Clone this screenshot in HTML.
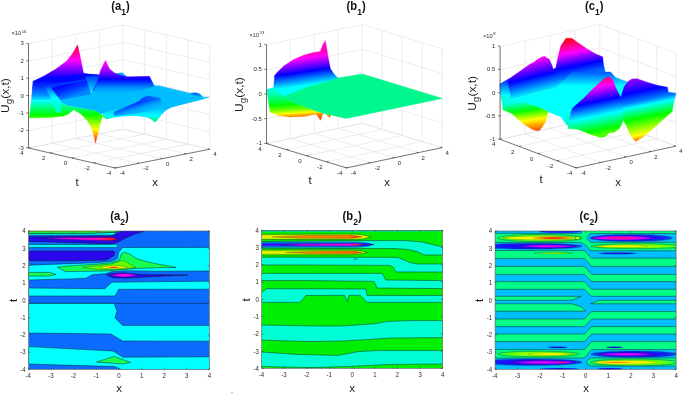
<!DOCTYPE html>
<html lang="en">
<head>
<meta charset="utf-8">
<title>Surface and contour plots of U_g(x,t)</title>
<style>
html,body{margin:0;padding:0;background:#fff;}
body{width:685px;height:395px;overflow:hidden;}
svg{display:block;font-family:'Liberation Sans', Arial, Helvetica, sans-serif;}
</style>
</head>
<body>
<svg width="685" height="395" viewBox="0 0 685 395">
<defs>
<linearGradient id="h1" gradientUnits="userSpaceOnUse" x1="77.53" y1="45.06" x2="77.53" y2="78.61"><stop offset="0" stop-color="#ff0026"/><stop offset="0.46" stop-color="#ff00ff"/><stop offset="0.99" stop-color="#0000ff"/><stop offset="1" stop-color="#0003ff"/></linearGradient>
<linearGradient id="h2" gradientUnits="userSpaceOnUse" x1="105.38" y1="60.38" x2="105.38" y2="93.67"><stop offset="0" stop-color="#ff00d6"/><stop offset="0.09" stop-color="#ff00ff"/><stop offset="0.3" stop-color="#a600ff"/><stop offset="0.57" stop-color="#0000ff"/><stop offset="0.57" stop-color="#0003ff"/><stop offset="0.83" stop-color="#0094ff"/><stop offset="1" stop-color="#00bdff"/></linearGradient>
<linearGradient id="h3" gradientUnits="userSpaceOnUse" x1="50.32" y1="80.7" x2="50.32" y2="100.95"><stop offset="0" stop-color="#0003ff"/><stop offset="0.34" stop-color="#0040ff"/><stop offset="0.72" stop-color="#0094ff"/><stop offset="1" stop-color="#00ffff"/></linearGradient>
<linearGradient id="h4" gradientUnits="userSpaceOnUse" x1="88.29" y1="75" x2="88.29" y2="93.99"><stop offset="0" stop-color="#0030ff"/><stop offset="1" stop-color="#00ffff"/></linearGradient>
<linearGradient id="h5" gradientUnits="userSpaceOnUse" x1="62.97" y1="83.61" x2="68.04" y2="98.04"><stop offset="0" stop-color="#0029ff"/><stop offset="0.1" stop-color="#0003ff"/><stop offset="0.54" stop-color="#0038ff"/><stop offset="1" stop-color="#0085ff"/></linearGradient>
<linearGradient id="h6" gradientUnits="userSpaceOnUse" x1="60" y1="100.3" x2="60" y2="143.8"><stop offset="0" stop-color="#00ffff"/><stop offset="0.33" stop-color="#00ff00"/><stop offset="0.67" stop-color="#ffff00"/><stop offset="1" stop-color="#ff0000"/></linearGradient>
<linearGradient id="h7" gradientUnits="userSpaceOnUse" x1="55.38" y1="87.41" x2="55.38" y2="112.97"><stop offset="0" stop-color="#0066ff"/><stop offset="0.41" stop-color="#00ffff"/><stop offset="1" stop-color="#00ffba"/></linearGradient>
<linearGradient id="h8" gradientUnits="userSpaceOnUse" x1="150" y1="108" x2="150" y2="122.5"><stop offset="0" stop-color="#00bdff"/><stop offset="0.55" stop-color="#00ffff"/><stop offset="1" stop-color="#00ff38"/></linearGradient>
<linearGradient id="h9" gradientUnits="userSpaceOnUse" x1="148.16" y1="96.14" x2="150.7" y2="103.99"><stop offset="0" stop-color="#0040ff"/><stop offset="1" stop-color="#009cff"/></linearGradient>
<linearGradient id="h10" gradientUnits="userSpaceOnUse" x1="136.77" y1="102.34" x2="140.06" y2="112.59"><stop offset="0" stop-color="#0021ff"/><stop offset="0.31" stop-color="#006eff"/><stop offset="0.62" stop-color="#00a3ff"/><stop offset="1" stop-color="#00bdff"/></linearGradient>
<linearGradient id="h11" gradientUnits="userSpaceOnUse" x1="195.7" y1="92.78" x2="196.96" y2="98.1"><stop offset="0" stop-color="#0057ff"/><stop offset="1" stop-color="#00bdff"/></linearGradient>
<linearGradient id="h12" gradientUnits="userSpaceOnUse" x1="299.97" y1="55.82" x2="304.15" y2="85.57"><stop offset="0" stop-color="#ff00c7"/><stop offset="0.1" stop-color="#ff00ff"/><stop offset="0.55" stop-color="#0000ff"/><stop offset="1" stop-color="#00ffff"/></linearGradient>
<linearGradient id="h13" gradientUnits="userSpaceOnUse" x1="287.32" y1="90.13" x2="288.96" y2="116.96"><stop offset="0" stop-color="#00ffd1"/><stop offset="0.24" stop-color="#00ff85"/><stop offset="0.52" stop-color="#00ff0a"/><stop offset="0.54" stop-color="#00ff00"/><stop offset="0.73" stop-color="#70ff00"/><stop offset="0.84" stop-color="#dbff00"/><stop offset="0.87" stop-color="#ffff00"/><stop offset="0.92" stop-color="#ffc700"/><stop offset="1" stop-color="#ff8200"/></linearGradient>
<linearGradient id="h14" gradientUnits="userSpaceOnUse" x1="320.23" y1="113.16" x2="320.48" y2="120.25"><stop offset="0" stop-color="#ff9900"/><stop offset="1" stop-color="#ff2e00"/></linearGradient>
<linearGradient id="h15" gradientUnits="userSpaceOnUse" x1="327.82" y1="113.16" x2="329.72" y2="117.72"><stop offset="0" stop-color="#ffa800"/><stop offset="1" stop-color="#ff6b00"/></linearGradient>
<linearGradient id="h16" gradientUnits="userSpaceOnUse" x1="571.65" y1="38.23" x2="580.13" y2="80.63"><stop offset="0" stop-color="#ff000f"/><stop offset="0.31" stop-color="#ff00f5"/><stop offset="0.33" stop-color="#ff00ff"/><stop offset="0.46" stop-color="#8f00ff"/><stop offset="0.64" stop-color="#0500ff"/><stop offset="0.65" stop-color="#0000ff"/><stop offset="0.82" stop-color="#0057ff"/><stop offset="1" stop-color="#0094ff"/></linearGradient>
<linearGradient id="h17" gradientUnits="userSpaceOnUse" x1="535.79" y1="101.9" x2="524.01" y2="52.77"><stop offset="0" stop-color="#00ff89"/><stop offset="0.15" stop-color="#00ffff"/><stop offset="0.49" stop-color="#0000ff"/><stop offset="0.82" stop-color="#ff00ff"/><stop offset="1" stop-color="#ff0076"/></linearGradient>
<linearGradient id="h18" gradientUnits="userSpaceOnUse" x1="505.13" y1="82.59" x2="505.13" y2="99.05"><stop offset="0" stop-color="#0057ff"/><stop offset="0.79" stop-color="#00ffff"/><stop offset="1" stop-color="#00ffd1"/></linearGradient>
<linearGradient id="h19" gradientUnits="userSpaceOnUse" x1="590" y1="72" x2="590" y2="86"><stop offset="0" stop-color="#0057ff"/><stop offset="1" stop-color="#00ffff"/></linearGradient>
<linearGradient id="h20" gradientUnits="userSpaceOnUse" x1="536.67" y1="135.09" x2="532.15" y2="100.48"><stop offset="0" stop-color="#ff0000"/><stop offset="0.45" stop-color="#ffff00"/><stop offset="0.74" stop-color="#00ff00"/><stop offset="1" stop-color="#00ffe2"/></linearGradient>
<linearGradient id="h21" gradientUnits="userSpaceOnUse" x1="568" y1="112" x2="568" y2="128.7"><stop offset="0" stop-color="#00ffff"/><stop offset="0.48" stop-color="#00ffc2"/><stop offset="1" stop-color="#00ff29"/></linearGradient>
<linearGradient id="h22" gradientUnits="userSpaceOnUse" x1="630.6" y1="79.2" x2="642.6" y2="139.2"><stop offset="0" stop-color="#9e00ff"/><stop offset="0.22" stop-color="#0000ff"/><stop offset="0.23" stop-color="#0003ff"/><stop offset="0.38" stop-color="#007dff"/><stop offset="0.46" stop-color="#00ffff"/><stop offset="0.65" stop-color="#00ff00"/><stop offset="0.66" stop-color="#05ff00"/><stop offset="0.92" stop-color="#faff00"/><stop offset="0.93" stop-color="#ffff00"/><stop offset="1" stop-color="#ff7a00"/></linearGradient>
<linearGradient id="h23" gradientUnits="userSpaceOnUse" x1="603.85" y1="133.36" x2="591.58" y2="73.05"><stop offset="0" stop-color="#49ff00"/><stop offset="0.07" stop-color="#00ff00"/><stop offset="0.3" stop-color="#00ffff"/><stop offset="0.53" stop-color="#0000ff"/><stop offset="0.76" stop-color="#ff00ff"/><stop offset="0.99" stop-color="#ff0000"/><stop offset="1" stop-color="#ff0000"/></linearGradient>
<linearGradient id="a2m" x1="0" x2="1" y1="0" y2="0"><stop offset="0" stop-color="#7a00ff"/><stop offset="0.25" stop-color="#d400ff"/><stop offset="0.7" stop-color="#ff00d0"/><stop offset="0.9" stop-color="#ff1040"/><stop offset="1" stop-color="#ff0000"/></linearGradient>
<radialGradient id="a2r"><stop offset="0" stop-color="#ff0000"/><stop offset="0.18" stop-color="#ff3000"/><stop offset="0.35" stop-color="#ffb000"/><stop offset="0.6" stop-color="#f0ff00"/><stop offset="1" stop-color="#a0ff00"/></radialGradient>
<radialGradient id="a2p"><stop offset="0" stop-color="#ff10c0"/><stop offset="0.45" stop-color="#e800ff"/><stop offset="1" stop-color="#8a00ff"/></radialGradient>
<linearGradient id="b2y" x1="0" x2="0" y1="0" y2="1"><stop offset="0" stop-color="#60f000"/><stop offset="0.2" stop-color="#c8ee00"/><stop offset="0.5" stop-color="#ecec00"/><stop offset="0.8" stop-color="#c8ee00"/><stop offset="1" stop-color="#60f000"/></linearGradient>
<linearGradient id="b2o" x1="0" x2="1" y1="0" y2="0"><stop offset="0" stop-color="#c8a000"/><stop offset="0.3" stop-color="#f08800"/><stop offset="0.85" stop-color="#ff7000"/><stop offset="1" stop-color="#ff1000"/></linearGradient>
<linearGradient id="b2b" x1="0" x2="0" y1="0" y2="1"><stop offset="0" stop-color="#00b0e0"/><stop offset="0.3" stop-color="#1030ff"/><stop offset="0.5" stop-color="#5000f0"/><stop offset="0.7" stop-color="#1030ff"/><stop offset="1" stop-color="#00b0e0"/></linearGradient>
<linearGradient id="b2m" x1="0" x2="1" y1="0" y2="0"><stop offset="0" stop-color="#6000e0"/><stop offset="0.25" stop-color="#c000f0"/><stop offset="0.85" stop-color="#ff00e0"/><stop offset="0.93" stop-color="#ff2040"/><stop offset="1" stop-color="#5020ff"/></linearGradient>
<radialGradient id="cyo"><stop offset="0" stop-color="#c8ff00"/><stop offset="0.55" stop-color="#84ff00"/><stop offset="0.85" stop-color="#40ff20"/><stop offset="1" stop-color="#10ff60"/></radialGradient>
<radialGradient id="cym"><stop offset="0" stop-color="#fff200"/><stop offset="0.6" stop-color="#f0f800"/><stop offset="1" stop-color="#b4ff00"/></radialGradient>
<radialGradient id="cyr"><stop offset="0" stop-color="#ff0800"/><stop offset="0.45" stop-color="#ff4000"/><stop offset="0.8" stop-color="#ff9800"/><stop offset="1" stop-color="#ffd800"/></radialGradient>
<radialGradient id="cyq"><stop offset="0" stop-color="#ff7800"/><stop offset="0.6" stop-color="#ffa800"/><stop offset="1" stop-color="#ffe000"/></radialGradient>
<radialGradient id="cdo"><stop offset="0" stop-color="#2a00f0"/><stop offset="0.6" stop-color="#1a10f4"/><stop offset="0.88" stop-color="#0a30ff"/><stop offset="1" stop-color="#0060ff"/></radialGradient>
<radialGradient id="cdm"><stop offset="0" stop-color="#f000e8"/><stop offset="0.5" stop-color="#c000ff"/><stop offset="0.85" stop-color="#7000ff"/><stop offset="1" stop-color="#3a00f4"/></radialGradient>
<radialGradient id="cdr"><stop offset="0" stop-color="#ff1030"/><stop offset="0.35" stop-color="#ff00b0"/><stop offset="0.7" stop-color="#d000ff"/><stop offset="1" stop-color="#7a00ff"/></radialGradient>
</defs>
<rect width="685" height="395" fill="#ffffff"/>
<line x1="28.5" y1="148" x2="28.5" y2="43.7" stroke="#e3e3e3" stroke-width="0.65"/>
<line x1="52.13" y1="143.3" x2="52.13" y2="39" stroke="#e3e3e3" stroke-width="0.65"/>
<line x1="75.75" y1="138.6" x2="75.75" y2="34.3" stroke="#e3e3e3" stroke-width="0.65"/>
<line x1="99.38" y1="133.9" x2="99.38" y2="29.6" stroke="#e3e3e3" stroke-width="0.65"/>
<line x1="123" y1="129.2" x2="123" y2="24.9" stroke="#e3e3e3" stroke-width="0.65"/>
<line x1="28.5" y1="148" x2="123" y2="129.2" stroke="#e3e3e3" stroke-width="0.65"/>
<line x1="123" y1="129.2" x2="209.8" y2="149.2" stroke="#e3e3e3" stroke-width="0.65"/>
<line x1="28.5" y1="130.62" x2="123" y2="111.82" stroke="#e3e3e3" stroke-width="0.65"/>
<line x1="123" y1="111.82" x2="209.8" y2="131.82" stroke="#e3e3e3" stroke-width="0.65"/>
<line x1="28.5" y1="113.23" x2="123" y2="94.43" stroke="#e3e3e3" stroke-width="0.65"/>
<line x1="123" y1="94.43" x2="209.8" y2="114.43" stroke="#e3e3e3" stroke-width="0.65"/>
<line x1="28.5" y1="95.85" x2="123" y2="77.05" stroke="#e3e3e3" stroke-width="0.65"/>
<line x1="123" y1="77.05" x2="209.8" y2="97.05" stroke="#e3e3e3" stroke-width="0.65"/>
<line x1="28.5" y1="78.47" x2="123" y2="59.67" stroke="#e3e3e3" stroke-width="0.65"/>
<line x1="123" y1="59.67" x2="209.8" y2="79.67" stroke="#e3e3e3" stroke-width="0.65"/>
<line x1="28.5" y1="61.08" x2="123" y2="42.28" stroke="#e3e3e3" stroke-width="0.65"/>
<line x1="123" y1="42.28" x2="209.8" y2="62.28" stroke="#e3e3e3" stroke-width="0.65"/>
<line x1="28.5" y1="43.7" x2="123" y2="24.9" stroke="#e3e3e3" stroke-width="0.65"/>
<line x1="123" y1="24.9" x2="209.8" y2="44.9" stroke="#e3e3e3" stroke-width="0.65"/>
<line x1="209.8" y1="149.2" x2="209.8" y2="44.9" stroke="#e3e3e3" stroke-width="0.65"/>
<line x1="188.1" y1="144.2" x2="188.1" y2="39.9" stroke="#e3e3e3" stroke-width="0.65"/>
<line x1="166.4" y1="139.2" x2="166.4" y2="34.9" stroke="#e3e3e3" stroke-width="0.65"/>
<line x1="144.7" y1="134.2" x2="144.7" y2="29.9" stroke="#e3e3e3" stroke-width="0.65"/>
<line x1="138.93" y1="163.3" x2="52.13" y2="143.3" stroke="#e3e3e3" stroke-width="0.65"/>
<line x1="162.55" y1="158.6" x2="75.75" y2="138.6" stroke="#e3e3e3" stroke-width="0.65"/>
<line x1="186.18" y1="153.9" x2="99.38" y2="133.9" stroke="#e3e3e3" stroke-width="0.65"/>
<line x1="209.8" y1="149.2" x2="123" y2="129.2" stroke="#e3e3e3" stroke-width="0.65"/>
<line x1="93.6" y1="163" x2="188.1" y2="144.2" stroke="#e3e3e3" stroke-width="0.65"/>
<line x1="71.9" y1="158" x2="166.4" y2="139.2" stroke="#e3e3e3" stroke-width="0.65"/>
<line x1="50.2" y1="153" x2="144.7" y2="134.2" stroke="#e3e3e3" stroke-width="0.65"/>
<line x1="28.5" y1="148" x2="123" y2="129.2" stroke="#e3e3e3" stroke-width="0.65"/>
<polygon points="60.4,99 90,90 120,85 154.2,85.8 159,85.8 190.6,93.4 195.7,92.8 199.5,94 203.3,97.2 209,97.2 200.8,99.7 188.1,102.9 178,105.4 171.6,107.3 165.3,110.5 161.5,114.3 156.5,120.5 155.1,122 150.7,118.5 145.6,116.6 133,115.4 122.8,116 112.7,117.3 106.4,118.9 102.6,113.5 101,114.2 95.9,111 82,108.5 66.8,105.4 60.4,102.2" fill="#00bdff" stroke="#00bdff" stroke-width="0.4" stroke-linejoin="round"/>
<polygon points="113.99,73.67 122.22,72.78 127.28,77.09 115.25,77.34" fill="#00a3ff" stroke="#00a3ff" stroke-width="0.4" stroke-linejoin="round"/>
<polygon points="33.23,81.14 43.99,76.08 56.65,68.48 66.77,60.89 73.1,52.66 77.53,45.06 79.18,52.03 80.7,58.99 82.22,66.58 83.48,72.91 88.29,74.43 98.42,74.81 99.68,90 32.59,90" fill="url(#h1)" stroke="url(#h1)" stroke-width="0.4" stroke-linejoin="round"/>
<polygon points="93.73,91.77 97.53,80.38 100.7,70.25 105.38,60.38 109.56,68.99 115.25,73.42 120.32,75.32 126.65,76.84 149.43,76.33 154.24,86.08 145.63,89.49 120.32,94.3 93.73,98.73" fill="url(#h2)" stroke="url(#h2)" stroke-width="0.4" stroke-linejoin="round"/>
<polygon points="33.23,81.33 85.76,73.73 99.05,75 90.82,93.99 60.44,99.05 54.11,100.32 31.33,100.32" fill="url(#h3)" stroke="url(#h3)" stroke-width="0.4" stroke-linejoin="round"/>
<polygon points="85.51,76.65 99.05,75 96.52,82.59 90.82,93.99" fill="url(#h4)" stroke="url(#h4)" stroke-width="0.4" stroke-linejoin="round"/>
<polygon points="49.05,86.39 85.76,80.06 90.82,93.99 59.43,99.94" fill="url(#h5)" stroke="url(#h5)" stroke-width="0.4" stroke-linejoin="round"/>
<polygon points="40.19,86.65 85.51,79.18 86.01,80.82 42.72,87.91" fill="#003bff" stroke="#003bff" stroke-width="0.4" stroke-linejoin="round"/>
<polygon points="31.33,100.32 54.11,100.32 60.44,102.22 66.77,105.38 81.96,108.54 95.89,111.08 100.95,114.24 106.01,119.3 104.11,114.49 102.22,116.39 99.68,125.25 97.78,134.11 95.51,142.97 93.99,135.38 91.46,127.78 87.03,120.19 80.7,113.86 73.73,109.81 68.04,114.24 62.97,116.14 50.32,117.41 29.43,118.04" fill="url(#h6)" stroke="url(#h6)" stroke-width="0.4" stroke-linejoin="round"/>
<polygon points="45.63,87.41 50.32,86.9 59.81,99.68 61.08,111.71 56.65,112.97 52.22,100.32" fill="url(#h7)" stroke="url(#h7)" stroke-width="0.4" stroke-linejoin="round"/>
<polygon points="102.6,113.5 112,110 135,108 150,109 164,108 165.3,110.5 161.5,114.3 156.5,120.5 155.1,122 150.7,118.5 145.6,116.6 133,115.4 122.8,116 112.7,117.3 106.4,118.9" fill="url(#h8)" stroke="url(#h8)" stroke-width="0.4" stroke-linejoin="round"/>
<polygon points="136.77,102.72 143.1,97.66 148.16,96.14 153.86,97.03 159.81,98.42 158.29,101.46 145.63,103.99" fill="url(#h9)" stroke="url(#h9)" stroke-width="0.4" stroke-linejoin="round"/>
<polygon points="113.99,112.22 138.04,102.09 159.81,98.16 163.99,105.25 160.82,108.42 132.97,113.86 113.99,115.63" fill="url(#h10)" stroke="url(#h10)" stroke-width="0.4" stroke-linejoin="round"/>
<polygon points="190.63,93.42 195.7,92.78 199.49,94.05 203.29,97.22 200.76,98.1 195.7,95.7" fill="url(#h11)" stroke="url(#h11)" stroke-width="0.4" stroke-linejoin="round"/>
<line x1="28.5" y1="148" x2="28.5" y2="43.7" stroke="#454545" stroke-width="0.75"/>
<line x1="28.5" y1="148" x2="115.3" y2="168" stroke="#454545" stroke-width="0.75"/>
<line x1="115.3" y1="168" x2="209.8" y2="149.2" stroke="#454545" stroke-width="0.75"/>
<line x1="28.5" y1="148" x2="26.3" y2="147.6" stroke="#454545" stroke-width="0.75"/>
<text x="23.8" y="149.7" font-size="6" text-anchor="end" font-weight="normal" fill="#2a2a2a" >-3</text>
<line x1="28.5" y1="130.62" x2="26.3" y2="130.22" stroke="#454545" stroke-width="0.75"/>
<text x="23.8" y="132.32" font-size="6" text-anchor="end" font-weight="normal" fill="#2a2a2a" >-2</text>
<line x1="28.5" y1="113.23" x2="26.3" y2="112.83" stroke="#454545" stroke-width="0.75"/>
<text x="23.8" y="114.93" font-size="6" text-anchor="end" font-weight="normal" fill="#2a2a2a" >-1</text>
<line x1="28.5" y1="95.85" x2="26.3" y2="95.45" stroke="#454545" stroke-width="0.75"/>
<text x="23.8" y="97.55" font-size="6" text-anchor="end" font-weight="normal" fill="#2a2a2a" >0</text>
<line x1="28.5" y1="78.47" x2="26.3" y2="78.07" stroke="#454545" stroke-width="0.75"/>
<text x="23.8" y="80.17" font-size="6" text-anchor="end" font-weight="normal" fill="#2a2a2a" >1</text>
<line x1="28.5" y1="61.08" x2="26.3" y2="60.68" stroke="#454545" stroke-width="0.75"/>
<text x="23.8" y="62.78" font-size="6" text-anchor="end" font-weight="normal" fill="#2a2a2a" >2</text>
<line x1="28.5" y1="43.7" x2="26.3" y2="43.3" stroke="#454545" stroke-width="0.75"/>
<text x="23.8" y="45.4" font-size="6" text-anchor="end" font-weight="normal" fill="#2a2a2a" >3</text>
<line x1="28.5" y1="148" x2="30.5" y2="147.55" stroke="#454545" stroke-width="0.75"/>
<text x="22" y="155.05" font-size="6" text-anchor="middle" font-weight="normal" fill="#2a2a2a" >4</text>
<line x1="50.2" y1="153" x2="52.2" y2="152.55" stroke="#454545" stroke-width="0.75"/>
<text x="43.7" y="160.05" font-size="6" text-anchor="middle" font-weight="normal" fill="#2a2a2a" >2</text>
<line x1="71.9" y1="158" x2="73.9" y2="157.55" stroke="#454545" stroke-width="0.75"/>
<text x="65.4" y="165.05" font-size="6" text-anchor="middle" font-weight="normal" fill="#2a2a2a" >0</text>
<line x1="93.6" y1="163" x2="95.6" y2="162.55" stroke="#454545" stroke-width="0.75"/>
<text x="87.1" y="170.05" font-size="6" text-anchor="middle" font-weight="normal" fill="#2a2a2a" >-2</text>
<line x1="115.3" y1="168" x2="117.3" y2="167.55" stroke="#454545" stroke-width="0.75"/>
<text x="108.8" y="175.05" font-size="6" text-anchor="middle" font-weight="normal" fill="#2a2a2a" >-4</text>
<line x1="115.3" y1="168" x2="113.4" y2="167.55" stroke="#454545" stroke-width="0.75"/>
<text x="122.3" y="175.15" font-size="6" text-anchor="middle" font-weight="normal" fill="#2a2a2a" >-4</text>
<line x1="138.93" y1="163.3" x2="137.03" y2="162.85" stroke="#454545" stroke-width="0.75"/>
<text x="145.93" y="170.45" font-size="6" text-anchor="middle" font-weight="normal" fill="#2a2a2a" >-2</text>
<line x1="162.55" y1="158.6" x2="160.65" y2="158.15" stroke="#454545" stroke-width="0.75"/>
<text x="167.55" y="165.75" font-size="6" text-anchor="middle" font-weight="normal" fill="#2a2a2a" >0</text>
<line x1="186.18" y1="153.9" x2="184.28" y2="153.45" stroke="#454545" stroke-width="0.75"/>
<text x="191.18" y="161.05" font-size="6" text-anchor="middle" font-weight="normal" fill="#2a2a2a" >2</text>
<line x1="209.8" y1="149.2" x2="207.9" y2="148.75" stroke="#454545" stroke-width="0.75"/>
<text x="214.8" y="156.35" font-size="6" text-anchor="middle" font-weight="normal" fill="#2a2a2a" >4</text>
<text x="11.5" y="35.4" font-size="5.6" text-anchor="start" font-weight="normal" fill="#2a2a2a" >&#215;10</text>
<text x="21.7" y="32.8" font-size="4.2" text-anchor="start" font-weight="normal" fill="#2a2a2a" >16</text>
<line x1="266.5" y1="143.6" x2="266.5" y2="44.8" stroke="#e3e3e3" stroke-width="0.65"/>
<line x1="290.43" y1="138.52" x2="290.43" y2="39.72" stroke="#e3e3e3" stroke-width="0.65"/>
<line x1="314.35" y1="133.45" x2="314.35" y2="34.65" stroke="#e3e3e3" stroke-width="0.65"/>
<line x1="338.27" y1="128.38" x2="338.27" y2="29.58" stroke="#e3e3e3" stroke-width="0.65"/>
<line x1="362.2" y1="123.3" x2="362.2" y2="24.5" stroke="#e3e3e3" stroke-width="0.65"/>
<line x1="266.5" y1="143.6" x2="362.2" y2="123.3" stroke="#e3e3e3" stroke-width="0.65"/>
<line x1="362.2" y1="123.3" x2="442.2" y2="147.6" stroke="#e3e3e3" stroke-width="0.65"/>
<line x1="266.5" y1="118.9" x2="362.2" y2="98.6" stroke="#e3e3e3" stroke-width="0.65"/>
<line x1="362.2" y1="98.6" x2="442.2" y2="122.9" stroke="#e3e3e3" stroke-width="0.65"/>
<line x1="266.5" y1="94.2" x2="362.2" y2="73.9" stroke="#e3e3e3" stroke-width="0.65"/>
<line x1="362.2" y1="73.9" x2="442.2" y2="98.2" stroke="#e3e3e3" stroke-width="0.65"/>
<line x1="266.5" y1="69.5" x2="362.2" y2="49.2" stroke="#e3e3e3" stroke-width="0.65"/>
<line x1="362.2" y1="49.2" x2="442.2" y2="73.5" stroke="#e3e3e3" stroke-width="0.65"/>
<line x1="266.5" y1="44.8" x2="362.2" y2="24.5" stroke="#e3e3e3" stroke-width="0.65"/>
<line x1="362.2" y1="24.5" x2="442.2" y2="48.8" stroke="#e3e3e3" stroke-width="0.65"/>
<line x1="442.2" y1="147.6" x2="442.2" y2="48.8" stroke="#e3e3e3" stroke-width="0.65"/>
<line x1="422.2" y1="141.52" x2="422.2" y2="42.72" stroke="#e3e3e3" stroke-width="0.65"/>
<line x1="402.2" y1="135.45" x2="402.2" y2="36.65" stroke="#e3e3e3" stroke-width="0.65"/>
<line x1="382.2" y1="129.38" x2="382.2" y2="30.58" stroke="#e3e3e3" stroke-width="0.65"/>
<line x1="370.43" y1="162.82" x2="290.43" y2="138.52" stroke="#e3e3e3" stroke-width="0.65"/>
<line x1="394.35" y1="157.75" x2="314.35" y2="133.45" stroke="#e3e3e3" stroke-width="0.65"/>
<line x1="418.27" y1="152.68" x2="338.27" y2="128.38" stroke="#e3e3e3" stroke-width="0.65"/>
<line x1="442.2" y1="147.6" x2="362.2" y2="123.3" stroke="#e3e3e3" stroke-width="0.65"/>
<line x1="326.5" y1="161.82" x2="422.2" y2="141.52" stroke="#e3e3e3" stroke-width="0.65"/>
<line x1="306.5" y1="155.75" x2="402.2" y2="135.45" stroke="#e3e3e3" stroke-width="0.65"/>
<line x1="286.5" y1="149.68" x2="382.2" y2="129.38" stroke="#e3e3e3" stroke-width="0.65"/>
<line x1="266.5" y1="143.6" x2="362.2" y2="123.3" stroke="#e3e3e3" stroke-width="0.65"/>
<polygon points="273.39,90 274.66,75.44 278.46,71.01 284.78,65.32 293.65,59.62 303.77,55.19 312.63,52.66 320.23,51.39 322.76,45.06 325.29,40.63 326.56,47.59 328.46,58.99 330.35,68.48 334.15,74.18 337.95,77.97 340.48,78.61 340.48,81.27 332.89,81.27 306.3,88.86 282.89,97.72 273.39,88.86" fill="url(#h12)" stroke="url(#h12)" stroke-width="0.4" stroke-linejoin="round"/>
<polygon points="266.43,89.49 273.39,87.59 282.89,96.46 293.65,102.15 312.63,109.75 322.76,113.16 317.7,114.18 315.16,114.18 303.77,116.46 289.85,116.96 278.46,115.44 270.23,112.28" fill="url(#h13)" stroke="url(#h13)" stroke-width="0.4" stroke-linejoin="round"/>
<polygon points="316.18,113.92 320.48,120.25 323.27,112.66" fill="url(#h14)" stroke="url(#h14)" stroke-width="0.4" stroke-linejoin="round"/>
<polygon points="325.04,112.66 329.72,117.72 331.24,113.92" fill="url(#h15)" stroke="url(#h15)" stroke-width="0.4" stroke-linejoin="round"/>
<polygon points="283,96.5 306.3,87.6 332.9,80 338,78 362.2,74 442.3,98.4 346.3,118.4 322.8,113.2 312.6,109.7 293.6,102.2" fill="#00f78e" stroke="#00f78e" stroke-width="0.4" stroke-linejoin="round"/>
<line x1="266.5" y1="143.6" x2="266.5" y2="44.8" stroke="#454545" stroke-width="0.75"/>
<line x1="266.5" y1="143.6" x2="346.5" y2="167.9" stroke="#454545" stroke-width="0.75"/>
<line x1="346.5" y1="167.9" x2="442.2" y2="147.6" stroke="#454545" stroke-width="0.75"/>
<line x1="266.5" y1="143.6" x2="264.3" y2="143.2" stroke="#454545" stroke-width="0.75"/>
<text x="261.8" y="145.3" font-size="6" text-anchor="end" font-weight="normal" fill="#2a2a2a" >-1</text>
<line x1="266.5" y1="118.9" x2="264.3" y2="118.5" stroke="#454545" stroke-width="0.75"/>
<text x="261.8" y="120.6" font-size="6" text-anchor="end" font-weight="normal" fill="#2a2a2a" >-0.5</text>
<line x1="266.5" y1="94.2" x2="264.3" y2="93.8" stroke="#454545" stroke-width="0.75"/>
<text x="261.8" y="95.9" font-size="6" text-anchor="end" font-weight="normal" fill="#2a2a2a" >0</text>
<line x1="266.5" y1="69.5" x2="264.3" y2="69.1" stroke="#454545" stroke-width="0.75"/>
<text x="261.8" y="71.2" font-size="6" text-anchor="end" font-weight="normal" fill="#2a2a2a" >0.5</text>
<line x1="266.5" y1="44.8" x2="264.3" y2="44.4" stroke="#454545" stroke-width="0.75"/>
<text x="261.8" y="46.5" font-size="6" text-anchor="end" font-weight="normal" fill="#2a2a2a" >1</text>
<line x1="266.5" y1="143.6" x2="268.5" y2="143.15" stroke="#454545" stroke-width="0.75"/>
<text x="260" y="150.65" font-size="6" text-anchor="middle" font-weight="normal" fill="#2a2a2a" >4</text>
<line x1="286.5" y1="149.68" x2="288.5" y2="149.23" stroke="#454545" stroke-width="0.75"/>
<text x="280" y="156.73" font-size="6" text-anchor="middle" font-weight="normal" fill="#2a2a2a" >2</text>
<line x1="306.5" y1="155.75" x2="308.5" y2="155.3" stroke="#454545" stroke-width="0.75"/>
<text x="300" y="162.8" font-size="6" text-anchor="middle" font-weight="normal" fill="#2a2a2a" >0</text>
<line x1="326.5" y1="161.82" x2="328.5" y2="161.38" stroke="#454545" stroke-width="0.75"/>
<text x="320" y="168.88" font-size="6" text-anchor="middle" font-weight="normal" fill="#2a2a2a" >-2</text>
<line x1="346.5" y1="167.9" x2="348.5" y2="167.45" stroke="#454545" stroke-width="0.75"/>
<text x="340" y="174.95" font-size="6" text-anchor="middle" font-weight="normal" fill="#2a2a2a" >-4</text>
<line x1="346.5" y1="167.9" x2="344.6" y2="167.45" stroke="#454545" stroke-width="0.75"/>
<text x="353.5" y="175.05" font-size="6" text-anchor="middle" font-weight="normal" fill="#2a2a2a" >-4</text>
<line x1="370.43" y1="162.82" x2="368.53" y2="162.38" stroke="#454545" stroke-width="0.75"/>
<text x="377.43" y="169.97" font-size="6" text-anchor="middle" font-weight="normal" fill="#2a2a2a" >-2</text>
<line x1="394.35" y1="157.75" x2="392.45" y2="157.3" stroke="#454545" stroke-width="0.75"/>
<text x="399.35" y="164.9" font-size="6" text-anchor="middle" font-weight="normal" fill="#2a2a2a" >0</text>
<line x1="418.27" y1="152.68" x2="416.38" y2="152.23" stroke="#454545" stroke-width="0.75"/>
<text x="423.27" y="159.83" font-size="6" text-anchor="middle" font-weight="normal" fill="#2a2a2a" >2</text>
<line x1="442.2" y1="147.6" x2="440.3" y2="147.15" stroke="#454545" stroke-width="0.75"/>
<text x="447.2" y="154.75" font-size="6" text-anchor="middle" font-weight="normal" fill="#2a2a2a" >4</text>
<text x="249.5" y="36.5" font-size="5.6" text-anchor="start" font-weight="normal" fill="#2a2a2a" >&#215;10</text>
<text x="259.7" y="33.9" font-size="4.2" text-anchor="start" font-weight="normal" fill="#2a2a2a" >13</text>
<line x1="500.1" y1="139.3" x2="500.1" y2="46.3" stroke="#e3e3e3" stroke-width="0.65"/>
<line x1="525.02" y1="133.85" x2="525.02" y2="40.85" stroke="#e3e3e3" stroke-width="0.65"/>
<line x1="549.95" y1="128.4" x2="549.95" y2="35.4" stroke="#e3e3e3" stroke-width="0.65"/>
<line x1="574.88" y1="122.95" x2="574.88" y2="29.95" stroke="#e3e3e3" stroke-width="0.65"/>
<line x1="599.8" y1="117.5" x2="599.8" y2="24.5" stroke="#e3e3e3" stroke-width="0.65"/>
<line x1="500.1" y1="139.3" x2="599.8" y2="117.5" stroke="#e3e3e3" stroke-width="0.65"/>
<line x1="599.8" y1="117.5" x2="675.9" y2="146.1" stroke="#e3e3e3" stroke-width="0.65"/>
<line x1="500.1" y1="116.05" x2="599.8" y2="94.25" stroke="#e3e3e3" stroke-width="0.65"/>
<line x1="599.8" y1="94.25" x2="675.9" y2="122.85" stroke="#e3e3e3" stroke-width="0.65"/>
<line x1="500.1" y1="92.8" x2="599.8" y2="71" stroke="#e3e3e3" stroke-width="0.65"/>
<line x1="599.8" y1="71" x2="675.9" y2="99.6" stroke="#e3e3e3" stroke-width="0.65"/>
<line x1="500.1" y1="69.55" x2="599.8" y2="47.75" stroke="#e3e3e3" stroke-width="0.65"/>
<line x1="599.8" y1="47.75" x2="675.9" y2="76.35" stroke="#e3e3e3" stroke-width="0.65"/>
<line x1="500.1" y1="46.3" x2="599.8" y2="24.5" stroke="#e3e3e3" stroke-width="0.65"/>
<line x1="599.8" y1="24.5" x2="675.9" y2="53.1" stroke="#e3e3e3" stroke-width="0.65"/>
<line x1="675.9" y1="146.1" x2="675.9" y2="53.1" stroke="#e3e3e3" stroke-width="0.65"/>
<line x1="656.88" y1="138.95" x2="656.88" y2="45.95" stroke="#e3e3e3" stroke-width="0.65"/>
<line x1="637.85" y1="131.8" x2="637.85" y2="38.8" stroke="#e3e3e3" stroke-width="0.65"/>
<line x1="618.82" y1="124.65" x2="618.82" y2="31.65" stroke="#e3e3e3" stroke-width="0.65"/>
<line x1="601.12" y1="162.45" x2="525.02" y2="133.85" stroke="#e3e3e3" stroke-width="0.65"/>
<line x1="626.05" y1="157" x2="549.95" y2="128.4" stroke="#e3e3e3" stroke-width="0.65"/>
<line x1="650.98" y1="151.55" x2="574.88" y2="122.95" stroke="#e3e3e3" stroke-width="0.65"/>
<line x1="675.9" y1="146.1" x2="599.8" y2="117.5" stroke="#e3e3e3" stroke-width="0.65"/>
<line x1="557.18" y1="160.75" x2="656.88" y2="138.95" stroke="#e3e3e3" stroke-width="0.65"/>
<line x1="538.15" y1="153.6" x2="637.85" y2="131.8" stroke="#e3e3e3" stroke-width="0.65"/>
<line x1="519.12" y1="146.45" x2="618.82" y2="124.65" stroke="#e3e3e3" stroke-width="0.65"/>
<line x1="500.1" y1="139.3" x2="599.8" y2="117.5" stroke="#e3e3e3" stroke-width="0.65"/>
<polygon points="553.29,69.24 555.82,67.97 558.35,55.32 560.89,45.82 565.95,38.23 571.65,38.23 577.97,42.66 588.1,49.62 595.7,54.05 602.66,56.84 603.29,62.91 605.19,71.77 605.82,89.49 553.29,89.49" fill="url(#h16)" stroke="url(#h16)" stroke-width="0.4" stroke-linejoin="round"/>
<polygon points="499.81,84.3 510.19,77.97 520.32,71.01 529.18,64.68 532.97,62.78 539.3,58.35 544.37,56.2 549.43,59.62 551.96,65.32 553.48,69.75 563.99,81.14 581,85.1 555.8,87.7 515.9,98.4 514,101 501.3,98.4" fill="url(#h17)" stroke="url(#h17)" stroke-width="0.4" stroke-linejoin="round"/>
<polygon points="499.81,84.49 507.03,80.06 511.2,99.68 501.33,98.42" fill="url(#h18)" stroke="url(#h18)" stroke-width="0.4" stroke-linejoin="round"/>
<polygon points="514,101 515.9,98.4 555.8,87.7 567.5,76.5 572.6,72 610.6,72 615.6,77.7 628.3,82.2 620.7,97.3 600,100 572.6,108.1 566,112 570,125 566.5,125 560.8,116.8 548.2,111.7 536.8,106.6 524.1,102.2" fill="url(#h19)" stroke="url(#h19)" stroke-width="0.4" stroke-linejoin="round"/>
<polygon points="501.3,98.4 514,101 524.1,102.2 536.8,106.6 548.2,111.7 547.5,115.2 545.6,121.5 542.5,126.6 539.3,130.4 535.5,130.4 531.7,129.1 525.4,125.3 517.2,118.4 511.5,113.3 503.2,110.1" fill="url(#h20)" stroke="url(#h20)" stroke-width="0.4" stroke-linejoin="round"/>
<polygon points="565.3,112.8 572.6,107.7 571.5,112.7 569,128.7 566.6,121" fill="url(#h21)" stroke="url(#h21)" stroke-width="0.4" stroke-linejoin="round"/>
<polygon points="620.8,97.3 624.3,86.6 628.1,81.5 631.9,79 637,78.7 647.1,82.2 657.2,85.3 667.4,87.2 668.4,92.3 676,93.2 673.7,102.6 672.2,111.5 662.3,120.3 652.2,129.2 643.3,136.8 635.7,141.6 630.6,135.5 626.8,126.6 623.7,121 618,110" fill="url(#h22)" stroke="url(#h22)" stroke-width="0.4" stroke-linejoin="round"/>
<polygon points="572.6,108.1 584,98 594.1,87.8 603,79.6 608.7,76.5 613.1,80.3 615.6,87.8 620.7,97.3 623.2,121 619.4,128.5 614.4,132.3 608.7,133 605.5,136.8 600.4,137.4 590.3,134.2 577.7,129.2 568.2,128.5 570.7,112.7" fill="url(#h23)" stroke="url(#h23)" stroke-width="0.4" stroke-linejoin="round"/>
<line x1="500.1" y1="139.3" x2="500.1" y2="46.3" stroke="#454545" stroke-width="0.75"/>
<line x1="500.1" y1="139.3" x2="576.2" y2="167.9" stroke="#454545" stroke-width="0.75"/>
<line x1="576.2" y1="167.9" x2="675.9" y2="146.1" stroke="#454545" stroke-width="0.75"/>
<line x1="500.1" y1="139.3" x2="497.9" y2="138.9" stroke="#454545" stroke-width="0.75"/>
<text x="495.4" y="141" font-size="6" text-anchor="end" font-weight="normal" fill="#2a2a2a" >-1</text>
<line x1="500.1" y1="116.05" x2="497.9" y2="115.65" stroke="#454545" stroke-width="0.75"/>
<text x="495.4" y="117.75" font-size="6" text-anchor="end" font-weight="normal" fill="#2a2a2a" >-0.5</text>
<line x1="500.1" y1="92.8" x2="497.9" y2="92.4" stroke="#454545" stroke-width="0.75"/>
<text x="495.4" y="94.5" font-size="6" text-anchor="end" font-weight="normal" fill="#2a2a2a" >0</text>
<line x1="500.1" y1="69.55" x2="497.9" y2="69.15" stroke="#454545" stroke-width="0.75"/>
<text x="495.4" y="71.25" font-size="6" text-anchor="end" font-weight="normal" fill="#2a2a2a" >0.5</text>
<line x1="500.1" y1="46.3" x2="497.9" y2="45.9" stroke="#454545" stroke-width="0.75"/>
<text x="495.4" y="48" font-size="6" text-anchor="end" font-weight="normal" fill="#2a2a2a" >1</text>
<line x1="500.1" y1="139.3" x2="502.1" y2="138.85" stroke="#454545" stroke-width="0.75"/>
<text x="493.6" y="146.35" font-size="6" text-anchor="middle" font-weight="normal" fill="#2a2a2a" >4</text>
<line x1="519.12" y1="146.45" x2="521.12" y2="146" stroke="#454545" stroke-width="0.75"/>
<text x="512.62" y="153.5" font-size="6" text-anchor="middle" font-weight="normal" fill="#2a2a2a" >2</text>
<line x1="538.15" y1="153.6" x2="540.15" y2="153.15" stroke="#454545" stroke-width="0.75"/>
<text x="531.65" y="160.65" font-size="6" text-anchor="middle" font-weight="normal" fill="#2a2a2a" >0</text>
<line x1="557.18" y1="160.75" x2="559.18" y2="160.3" stroke="#454545" stroke-width="0.75"/>
<text x="550.68" y="167.8" font-size="6" text-anchor="middle" font-weight="normal" fill="#2a2a2a" >-2</text>
<line x1="576.2" y1="167.9" x2="578.2" y2="167.45" stroke="#454545" stroke-width="0.75"/>
<text x="569.7" y="174.95" font-size="6" text-anchor="middle" font-weight="normal" fill="#2a2a2a" >-4</text>
<line x1="576.2" y1="167.9" x2="574.3" y2="167.45" stroke="#454545" stroke-width="0.75"/>
<text x="583.2" y="175.05" font-size="6" text-anchor="middle" font-weight="normal" fill="#2a2a2a" >-4</text>
<line x1="601.12" y1="162.45" x2="599.23" y2="162" stroke="#454545" stroke-width="0.75"/>
<text x="608.12" y="169.6" font-size="6" text-anchor="middle" font-weight="normal" fill="#2a2a2a" >-2</text>
<line x1="626.05" y1="157" x2="624.15" y2="156.55" stroke="#454545" stroke-width="0.75"/>
<text x="631.05" y="164.15" font-size="6" text-anchor="middle" font-weight="normal" fill="#2a2a2a" >0</text>
<line x1="650.98" y1="151.55" x2="649.08" y2="151.1" stroke="#454545" stroke-width="0.75"/>
<text x="655.98" y="158.7" font-size="6" text-anchor="middle" font-weight="normal" fill="#2a2a2a" >2</text>
<line x1="675.9" y1="146.1" x2="674" y2="145.65" stroke="#454545" stroke-width="0.75"/>
<text x="680.9" y="153.25" font-size="6" text-anchor="middle" font-weight="normal" fill="#2a2a2a" >4</text>
<text x="483.1" y="38" font-size="5.6" text-anchor="start" font-weight="normal" fill="#2a2a2a" >&#215;10</text>
<text x="493.3" y="35.4" font-size="4.2" text-anchor="start" font-weight="normal" fill="#2a2a2a" >8</text>
<clipPath id="cl1"><rect x="28.6" y="231" width="180.8" height="138.5"/></clipPath>
<g clip-path="url(#cl1)">
<rect x="28.6" y="231" width="180.8" height="138.5" fill="#0a6cff"/>
<polygon points="28.6,233.2 100,233 113,232.4 117,233 113,235 28.6,235.2" fill="#00ffff" stroke="#101018" stroke-width="0.45" stroke-linejoin="round"/>
<polygon points="28.6,230 120,230 119,231.4 113,232.4 85,233.3 28.6,233.5" fill="#14ff50" stroke="#101018" stroke-width="0.45" stroke-linejoin="round"/>
<polygon points="28.6,231 112,231 100,232 28.6,232.2" fill="#3fd800" stroke="none" stroke-width="0" />
<polygon points="28.6,236.8 111,236.1 116,234.2 123,230 148,230 135,234 125,238.2 119.5,241.6 115,243.3 111,243.9 28.6,241.3" fill="#2a08ee" stroke="#101018" stroke-width="0.45" stroke-linejoin="round"/>
<polygon points="40,238.3 70,237.6 111,237.4 117.5,238.9 113,240.6 90,240.2 60,239.2" fill="url(#a2m)" stroke="#101018" stroke-width="0.3" stroke-linejoin="round"/>
<polygon points="28.6,244.5 116,244.6 119,245.7 116,247.4 28.6,247.4" fill="#00ffff" stroke="#101018" stroke-width="0.45" stroke-linejoin="round"/>
<polygon points="28.6,251 113,251.1 115,252.6 113.7,255.8 106.7,260 70,260.8 28.6,260.8" fill="#2a08ee" stroke="#101018" stroke-width="0.45" stroke-linejoin="round"/>
<polygon points="28.6,265.2 70,263.7 95.3,262.7 111.8,261.2 117.5,258.7 118.7,252.6 122.5,247.5 210.4,247.4 210.4,271 156,271.2 127,270.7 111.8,271.6 106,273.6 92.2,274.7 85.8,278.2 70,278.9 28.6,280" fill="#00ffff" stroke="#101018" stroke-width="0.45" stroke-linejoin="round"/>
<polygon points="28.6,272.4 49,272.4 56,274.4 49,276 28.6,276" fill="#14ff50" stroke="#101018" stroke-width="0.45" stroke-linejoin="round"/>
<polygon points="57.3,267.3 70,265.9 95.3,264.2 111.8,262.7 119.4,260.2 121.3,253.9 124.4,252.3 129.5,253.9 135.8,258.3 146,261.5 156,263.7 176,267.4 156,267.8 135.8,268.4 120.6,269.7 105.4,271 86.5,271.3 65.5,271.6" fill="#14ff50" stroke="#101018" stroke-width="0.45" stroke-linejoin="round"/>
<polygon points="82.7,267.5 99.1,265.3 111.8,264 120.6,260.8 124.4,260.8 129.5,264 135.8,267.5 120.6,269 99.1,269.7" fill="#66ff00" stroke="#101018" stroke-width="0.3" stroke-linejoin="round"/>
<ellipse cx="113.7" cy="267.4" rx="14" ry="1.6" fill="url(#a2r)" stroke="#101018" stroke-width="0.25"/>
<polygon points="106,275 111.8,273.5 123.2,272.8 140.9,274.4 188,275 140.9,277.3 124.4,278.2 113,277.7" fill="#2a08ee" stroke="#101018" stroke-width="0.45" stroke-linejoin="round"/>
<ellipse cx="124" cy="275.2" rx="12" ry="1.9" fill="url(#a2p)" stroke="#101018" stroke-width="0.25"/>
<polygon points="28.6,288 104.8,288.7 111.8,282.3 156,281.7 210.4,281.2 210.4,289.2 118.7,289.3 115,296 28.6,296" fill="#00ffff" stroke="#101018" stroke-width="0.45" stroke-linejoin="round"/>
<line x1="28.6" y1="303.4" x2="209.4" y2="303.4" stroke="#101018" stroke-width="0.45"/>
<polygon points="28.6,303.4 114,303.4 117,311 115,318 122.6,325.4 210.4,325.4 210.4,341.2 122.6,341 111,334 28.6,333" fill="#00ffff" stroke="#101018" stroke-width="0.45" stroke-linejoin="round"/>
<polygon points="28.6,346.6 113,351 123,357.2 210.4,356.8 210.4,370.5 123,370.5 115,366.6 28.6,364" fill="#00ffff" stroke="#101018" stroke-width="0.45" stroke-linejoin="round"/>
<polygon points="96.6,362 114,356.4 130.6,362.4 123,364" fill="#14ff50" stroke="#101018" stroke-width="0.45" stroke-linejoin="round"/>
</g>
<rect x="28.6" y="231" width="180.8" height="138.5" fill="none" stroke="#585858" stroke-width="0.6"/>
<line x1="28.6" y1="369.5" x2="28.6" y2="367.7" stroke="#454545" stroke-width="0.6"/>
<line x1="28.6" y1="231" x2="28.6" y2="232.8" stroke="#454545" stroke-width="0.6"/>
<text transform="translate(28.3 378.1) scale(0.92 1)" font-size="6.6" text-anchor="middle" font-weight="normal" fill="#2a2a2a" >-4</text>
<line x1="28.6" y1="369.5" x2="30.4" y2="369.5" stroke="#454545" stroke-width="0.6"/>
<line x1="209.4" y1="369.5" x2="207.6" y2="369.5" stroke="#454545" stroke-width="0.6"/>
<text transform="translate(25.7 371.8) scale(0.92 1)" font-size="6.6" text-anchor="end" font-weight="normal" fill="#2a2a2a" >-4</text>
<line x1="51.2" y1="369.5" x2="51.2" y2="367.7" stroke="#454545" stroke-width="0.6"/>
<line x1="51.2" y1="231" x2="51.2" y2="232.8" stroke="#454545" stroke-width="0.6"/>
<text transform="translate(50.9 378.1) scale(0.92 1)" font-size="6.6" text-anchor="middle" font-weight="normal" fill="#2a2a2a" >-3</text>
<line x1="28.6" y1="352.19" x2="30.4" y2="352.19" stroke="#454545" stroke-width="0.6"/>
<line x1="209.4" y1="352.19" x2="207.6" y2="352.19" stroke="#454545" stroke-width="0.6"/>
<text transform="translate(25.7 354.49) scale(0.92 1)" font-size="6.6" text-anchor="end" font-weight="normal" fill="#2a2a2a" >-3</text>
<line x1="73.8" y1="369.5" x2="73.8" y2="367.7" stroke="#454545" stroke-width="0.6"/>
<line x1="73.8" y1="231" x2="73.8" y2="232.8" stroke="#454545" stroke-width="0.6"/>
<text transform="translate(73.5 378.1) scale(0.92 1)" font-size="6.6" text-anchor="middle" font-weight="normal" fill="#2a2a2a" >-2</text>
<line x1="28.6" y1="334.88" x2="30.4" y2="334.88" stroke="#454545" stroke-width="0.6"/>
<line x1="209.4" y1="334.88" x2="207.6" y2="334.88" stroke="#454545" stroke-width="0.6"/>
<text transform="translate(25.7 337.18) scale(0.92 1)" font-size="6.6" text-anchor="end" font-weight="normal" fill="#2a2a2a" >-2</text>
<line x1="96.4" y1="369.5" x2="96.4" y2="367.7" stroke="#454545" stroke-width="0.6"/>
<line x1="96.4" y1="231" x2="96.4" y2="232.8" stroke="#454545" stroke-width="0.6"/>
<text transform="translate(96.1 378.1) scale(0.92 1)" font-size="6.6" text-anchor="middle" font-weight="normal" fill="#2a2a2a" >-1</text>
<line x1="28.6" y1="317.56" x2="30.4" y2="317.56" stroke="#454545" stroke-width="0.6"/>
<line x1="209.4" y1="317.56" x2="207.6" y2="317.56" stroke="#454545" stroke-width="0.6"/>
<text transform="translate(25.7 319.86) scale(0.92 1)" font-size="6.6" text-anchor="end" font-weight="normal" fill="#2a2a2a" >-1</text>
<line x1="119" y1="369.5" x2="119" y2="367.7" stroke="#454545" stroke-width="0.6"/>
<line x1="119" y1="231" x2="119" y2="232.8" stroke="#454545" stroke-width="0.6"/>
<text transform="translate(119 378.1) scale(0.92 1)" font-size="6.6" text-anchor="middle" font-weight="normal" fill="#2a2a2a" >0</text>
<line x1="28.6" y1="300.25" x2="30.4" y2="300.25" stroke="#454545" stroke-width="0.6"/>
<line x1="209.4" y1="300.25" x2="207.6" y2="300.25" stroke="#454545" stroke-width="0.6"/>
<text transform="translate(25.7 302.55) scale(0.92 1)" font-size="6.6" text-anchor="end" font-weight="normal" fill="#2a2a2a" >0</text>
<line x1="141.6" y1="369.5" x2="141.6" y2="367.7" stroke="#454545" stroke-width="0.6"/>
<line x1="141.6" y1="231" x2="141.6" y2="232.8" stroke="#454545" stroke-width="0.6"/>
<text transform="translate(141.6 378.1) scale(0.92 1)" font-size="6.6" text-anchor="middle" font-weight="normal" fill="#2a2a2a" >1</text>
<line x1="28.6" y1="282.94" x2="30.4" y2="282.94" stroke="#454545" stroke-width="0.6"/>
<line x1="209.4" y1="282.94" x2="207.6" y2="282.94" stroke="#454545" stroke-width="0.6"/>
<text transform="translate(25.7 285.24) scale(0.92 1)" font-size="6.6" text-anchor="end" font-weight="normal" fill="#2a2a2a" >1</text>
<line x1="164.2" y1="369.5" x2="164.2" y2="367.7" stroke="#454545" stroke-width="0.6"/>
<line x1="164.2" y1="231" x2="164.2" y2="232.8" stroke="#454545" stroke-width="0.6"/>
<text transform="translate(164.2 378.1) scale(0.92 1)" font-size="6.6" text-anchor="middle" font-weight="normal" fill="#2a2a2a" >2</text>
<line x1="28.6" y1="265.62" x2="30.4" y2="265.62" stroke="#454545" stroke-width="0.6"/>
<line x1="209.4" y1="265.62" x2="207.6" y2="265.62" stroke="#454545" stroke-width="0.6"/>
<text transform="translate(25.7 267.93) scale(0.92 1)" font-size="6.6" text-anchor="end" font-weight="normal" fill="#2a2a2a" >2</text>
<line x1="186.8" y1="369.5" x2="186.8" y2="367.7" stroke="#454545" stroke-width="0.6"/>
<line x1="186.8" y1="231" x2="186.8" y2="232.8" stroke="#454545" stroke-width="0.6"/>
<text transform="translate(186.8 378.1) scale(0.92 1)" font-size="6.6" text-anchor="middle" font-weight="normal" fill="#2a2a2a" >3</text>
<line x1="28.6" y1="248.31" x2="30.4" y2="248.31" stroke="#454545" stroke-width="0.6"/>
<line x1="209.4" y1="248.31" x2="207.6" y2="248.31" stroke="#454545" stroke-width="0.6"/>
<text transform="translate(25.7 250.61) scale(0.92 1)" font-size="6.6" text-anchor="end" font-weight="normal" fill="#2a2a2a" >3</text>
<line x1="209.4" y1="369.5" x2="209.4" y2="367.7" stroke="#454545" stroke-width="0.6"/>
<line x1="209.4" y1="231" x2="209.4" y2="232.8" stroke="#454545" stroke-width="0.6"/>
<text transform="translate(209.4 378.1) scale(0.92 1)" font-size="6.6" text-anchor="middle" font-weight="normal" fill="#2a2a2a" >4</text>
<line x1="28.6" y1="231" x2="30.4" y2="231" stroke="#454545" stroke-width="0.6"/>
<line x1="209.4" y1="231" x2="207.6" y2="231" stroke="#454545" stroke-width="0.6"/>
<text transform="translate(25.7 233.3) scale(0.92 1)" font-size="6.6" text-anchor="end" font-weight="normal" fill="#2a2a2a" >4</text>
<clipPath id="cl2"><rect x="261.7" y="230.3" width="181" height="138.2"/></clipPath>
<g clip-path="url(#cl2)">
<rect x="261.7" y="230.3" width="181" height="138.2" fill="#00f004"/>
<polygon points="261.7,230.3 442.7,230.3 442.7,231.3 405,231.8 261.7,231.9" fill="#00d4a4" stroke="none" stroke-width="0" />
<polygon points="260.7,241.5 370,240.6 406,240.6 422,242 434,245 443.7,247 443.7,255 424,255 418,252 408,249.4 394,248.6 370,248.6 260.7,248.3" fill="#00ffd4" stroke="#101018" stroke-width="0.45" stroke-linejoin="round"/>
<polygon points="260.7,257.2 398,257.4 404,260 410,262.6 418,264 443.7,264 443.7,272 396,272 393,267 390,265.4 310,265 260.7,265" fill="#00ffd4" stroke="#101018" stroke-width="0.45" stroke-linejoin="round"/>
<polygon points="260.7,273.4 382,273.4 386,280 443.7,280.6 443.7,288.6 377,288 374,281.4 310,280.6 260.7,280.6" fill="#00ffd4" stroke="#101018" stroke-width="0.45" stroke-linejoin="round"/>
<polygon points="260.7,294.2 266,288.7 366,289 367,295.4 443.7,295.4 443.7,302.4 367,302.4 360.4,295.4 349,295.4 347.4,301.6 344.4,295.4 306,295.4 300,302.4 260.7,302.4" fill="#00ffd4" stroke="#101018" stroke-width="0.45" stroke-linejoin="round"/>
<polygon points="260.7,325 318,326 342,326 376,323.6 386,321.6 410,320.6 443.7,320.6 443.7,337.6 390,338 370,339.4 342,341 308,341.6 260.7,340" fill="#00ffd4" stroke="#101018" stroke-width="0.45" stroke-linejoin="round"/>
<polygon points="260.7,352 298,354.4 338,355.4 348,353.6 358,351.6 376,350.6 443.7,350.6 443.7,364 390,364.4 350,366.4 310,367.6 260.7,366.4" fill="#00ffd4" stroke="#101018" stroke-width="0.45" stroke-linejoin="round"/>
<polygon points="260.7,234.3 355,234 362,234.6 371,237 362,239.2 355,239.6 260.7,239.5" fill="url(#b2y)" stroke="#101018" stroke-width="0.35" stroke-linejoin="round"/>
<polygon points="272,236.9 300,235.6 352,235.2 362,236.8 352,238.4 300,238.2" fill="url(#b2o)" stroke="#101018" stroke-width="0.2" />
<polygon points="260.7,242.2 358,242 366,242.8 374,244.6 366,246.4 358,247.3 260.7,247.4" fill="url(#b2b)" stroke="#101018" stroke-width="0.35" stroke-linejoin="round"/>
<polygon points="279,244.8 300,243.9 356,243.6 365,244.7 356,245.8 300,245.7" fill="url(#b2m)" stroke="#101018" stroke-width="0.2" />
<polygon points="260.7,250 352,250 360,250.7 367.6,252.3 360,254 352,254.8 260.7,254.9" fill="url(#b2y)" stroke="#101018" stroke-width="0.35" stroke-linejoin="round"/>
<polygon points="286,252.5 316,251.3 352,251 362,252.4 352,253.8 316,253.7" fill="url(#b2o)" stroke="#101018" stroke-width="0.2" />
<ellipse cx="355.6" cy="259.1" rx="2.2" ry="0.5" fill="#1040d0"/>
</g>
<rect x="261.7" y="230.3" width="181" height="138.2" fill="none" stroke="#585858" stroke-width="0.6"/>
<line x1="261.7" y1="368.5" x2="261.7" y2="366.7" stroke="#454545" stroke-width="0.6"/>
<line x1="261.7" y1="230.3" x2="261.7" y2="232.1" stroke="#454545" stroke-width="0.6"/>
<text transform="translate(261.4 377.1) scale(0.92 1)" font-size="6.6" text-anchor="middle" font-weight="normal" fill="#2a2a2a" >-4</text>
<line x1="261.7" y1="368.5" x2="263.5" y2="368.5" stroke="#454545" stroke-width="0.6"/>
<line x1="442.7" y1="368.5" x2="440.9" y2="368.5" stroke="#454545" stroke-width="0.6"/>
<text transform="translate(258.8 370.8) scale(0.92 1)" font-size="6.6" text-anchor="end" font-weight="normal" fill="#2a2a2a" >-4</text>
<line x1="284.32" y1="368.5" x2="284.32" y2="366.7" stroke="#454545" stroke-width="0.6"/>
<line x1="284.32" y1="230.3" x2="284.32" y2="232.1" stroke="#454545" stroke-width="0.6"/>
<text transform="translate(284.02 377.1) scale(0.92 1)" font-size="6.6" text-anchor="middle" font-weight="normal" fill="#2a2a2a" >-3</text>
<line x1="261.7" y1="351.23" x2="263.5" y2="351.23" stroke="#454545" stroke-width="0.6"/>
<line x1="442.7" y1="351.23" x2="440.9" y2="351.23" stroke="#454545" stroke-width="0.6"/>
<text transform="translate(258.8 353.53) scale(0.92 1)" font-size="6.6" text-anchor="end" font-weight="normal" fill="#2a2a2a" >-3</text>
<line x1="306.95" y1="368.5" x2="306.95" y2="366.7" stroke="#454545" stroke-width="0.6"/>
<line x1="306.95" y1="230.3" x2="306.95" y2="232.1" stroke="#454545" stroke-width="0.6"/>
<text transform="translate(306.65 377.1) scale(0.92 1)" font-size="6.6" text-anchor="middle" font-weight="normal" fill="#2a2a2a" >-2</text>
<line x1="261.7" y1="333.95" x2="263.5" y2="333.95" stroke="#454545" stroke-width="0.6"/>
<line x1="442.7" y1="333.95" x2="440.9" y2="333.95" stroke="#454545" stroke-width="0.6"/>
<text transform="translate(258.8 336.25) scale(0.92 1)" font-size="6.6" text-anchor="end" font-weight="normal" fill="#2a2a2a" >-2</text>
<line x1="329.57" y1="368.5" x2="329.57" y2="366.7" stroke="#454545" stroke-width="0.6"/>
<line x1="329.57" y1="230.3" x2="329.57" y2="232.1" stroke="#454545" stroke-width="0.6"/>
<text transform="translate(329.27 377.1) scale(0.92 1)" font-size="6.6" text-anchor="middle" font-weight="normal" fill="#2a2a2a" >-1</text>
<line x1="261.7" y1="316.68" x2="263.5" y2="316.68" stroke="#454545" stroke-width="0.6"/>
<line x1="442.7" y1="316.68" x2="440.9" y2="316.68" stroke="#454545" stroke-width="0.6"/>
<text transform="translate(258.8 318.98) scale(0.92 1)" font-size="6.6" text-anchor="end" font-weight="normal" fill="#2a2a2a" >-1</text>
<line x1="352.2" y1="368.5" x2="352.2" y2="366.7" stroke="#454545" stroke-width="0.6"/>
<line x1="352.2" y1="230.3" x2="352.2" y2="232.1" stroke="#454545" stroke-width="0.6"/>
<text transform="translate(352.2 377.1) scale(0.92 1)" font-size="6.6" text-anchor="middle" font-weight="normal" fill="#2a2a2a" >0</text>
<line x1="261.7" y1="299.4" x2="263.5" y2="299.4" stroke="#454545" stroke-width="0.6"/>
<line x1="442.7" y1="299.4" x2="440.9" y2="299.4" stroke="#454545" stroke-width="0.6"/>
<text transform="translate(258.8 301.7) scale(0.92 1)" font-size="6.6" text-anchor="end" font-weight="normal" fill="#2a2a2a" >0</text>
<line x1="374.82" y1="368.5" x2="374.82" y2="366.7" stroke="#454545" stroke-width="0.6"/>
<line x1="374.82" y1="230.3" x2="374.82" y2="232.1" stroke="#454545" stroke-width="0.6"/>
<text transform="translate(374.82 377.1) scale(0.92 1)" font-size="6.6" text-anchor="middle" font-weight="normal" fill="#2a2a2a" >1</text>
<line x1="261.7" y1="282.12" x2="263.5" y2="282.12" stroke="#454545" stroke-width="0.6"/>
<line x1="442.7" y1="282.12" x2="440.9" y2="282.12" stroke="#454545" stroke-width="0.6"/>
<text transform="translate(258.8 284.43) scale(0.92 1)" font-size="6.6" text-anchor="end" font-weight="normal" fill="#2a2a2a" >1</text>
<line x1="397.45" y1="368.5" x2="397.45" y2="366.7" stroke="#454545" stroke-width="0.6"/>
<line x1="397.45" y1="230.3" x2="397.45" y2="232.1" stroke="#454545" stroke-width="0.6"/>
<text transform="translate(397.45 377.1) scale(0.92 1)" font-size="6.6" text-anchor="middle" font-weight="normal" fill="#2a2a2a" >2</text>
<line x1="261.7" y1="264.85" x2="263.5" y2="264.85" stroke="#454545" stroke-width="0.6"/>
<line x1="442.7" y1="264.85" x2="440.9" y2="264.85" stroke="#454545" stroke-width="0.6"/>
<text transform="translate(258.8 267.15) scale(0.92 1)" font-size="6.6" text-anchor="end" font-weight="normal" fill="#2a2a2a" >2</text>
<line x1="420.07" y1="368.5" x2="420.07" y2="366.7" stroke="#454545" stroke-width="0.6"/>
<line x1="420.07" y1="230.3" x2="420.07" y2="232.1" stroke="#454545" stroke-width="0.6"/>
<text transform="translate(420.07 377.1) scale(0.92 1)" font-size="6.6" text-anchor="middle" font-weight="normal" fill="#2a2a2a" >3</text>
<line x1="261.7" y1="247.58" x2="263.5" y2="247.58" stroke="#454545" stroke-width="0.6"/>
<line x1="442.7" y1="247.58" x2="440.9" y2="247.58" stroke="#454545" stroke-width="0.6"/>
<text transform="translate(258.8 249.88) scale(0.92 1)" font-size="6.6" text-anchor="end" font-weight="normal" fill="#2a2a2a" >3</text>
<line x1="442.7" y1="368.5" x2="442.7" y2="366.7" stroke="#454545" stroke-width="0.6"/>
<line x1="442.7" y1="230.3" x2="442.7" y2="232.1" stroke="#454545" stroke-width="0.6"/>
<text transform="translate(442.7 377.1) scale(0.92 1)" font-size="6.6" text-anchor="middle" font-weight="normal" fill="#2a2a2a" >4</text>
<line x1="261.7" y1="230.3" x2="263.5" y2="230.3" stroke="#454545" stroke-width="0.6"/>
<line x1="442.7" y1="230.3" x2="440.9" y2="230.3" stroke="#454545" stroke-width="0.6"/>
<text transform="translate(258.8 232.6) scale(0.92 1)" font-size="6.6" text-anchor="end" font-weight="normal" fill="#2a2a2a" >4</text>
<clipPath id="cl3"><rect x="495.1" y="231" width="181" height="138.5"/></clipPath>
<g clip-path="url(#cl3)">
<rect x="495.1" y="231" width="181" height="138.5" fill="#00bfff"/>
<polygon points="494.1,233.3 574,233.6 581,233.3 583,230 587.5,230 677.1,230 677.1,233.6 590,233.6 586.6,238.3 590.3,242.3 677.1,242.3 677.1,250.8 591.4,250.8 589.5,250 587,246.4 583.3,243.8 580.4,242.4 494.1,242.4" fill="#00ff88" stroke="#101018" stroke-width="0.45" stroke-linejoin="round"/>
<polygon points="494.1,250.6 583.5,250.6 584.4,250.81 585.3,251.39 586.2,252.24 587.1,253.28 588,254.4 588.9,255.52 589.8,256.56 590.7,257.41 591.6,257.99 592.5,258.2 677.1,258.2 677.1,266.4 592.5,266.4 591.6,266.18 590.7,265.57 589.8,264.67 588.9,263.58 588,262.4 587.1,261.22 586.2,260.13 585.3,259.23 584.4,258.62 583.5,258.4 494.1,258.4" fill="#00ff88" stroke="#101018" stroke-width="0.45" stroke-linejoin="round"/>
<polygon points="494.1,266.4 583.5,266.4 584.4,266.62 585.3,267.23 586.2,268.13 587.1,269.22 588,270.4 588.9,271.58 589.8,272.67 590.7,273.57 591.6,274.18 592.5,274.4 677.1,274.4 677.1,281.6 592.5,281.6 591.6,281.4 590.7,280.85 589.8,280.04 588.9,279.07 588,278 587.1,276.93 586.2,275.96 585.3,275.15 584.4,274.6 583.5,274.4 494.1,274.4" fill="#00ff88" stroke="#101018" stroke-width="0.45" stroke-linejoin="round"/>
<polygon points="494.1,281.6 583.5,281.6 584.4,281.82 585.3,282.4 586.2,283.26 587.1,284.31 588,285.45 588.9,286.59 589.8,287.64 590.7,288.5 591.6,289.08 592.5,289.3 677.1,289.3 677.1,296.3 592.5,296.3 591.6,296.1 590.7,295.57 589.8,294.79 588.9,293.84 588,292.8 587.1,291.76 586.2,290.81 585.3,290.03 584.4,289.5 583.5,289.3 494.1,289.3" fill="#00ff88" stroke="#101018" stroke-width="0.45" stroke-linejoin="round"/>
<polygon points="494.1,296.3 581,296.3 571.8,300.3 494.1,300.3" fill="#00ff88" stroke="#101018" stroke-width="0.45" stroke-linejoin="round"/>
<polygon points="677.1,300.3 599.2,300.3 590.4,303.8 677.1,303.8" fill="#00ff88" stroke="#101018" stroke-width="0.45" stroke-linejoin="round"/>
<polygon points="494.1,303.8 571.8,303.8 579.7,306 583.3,308.7 585.5,311.2 494.1,311.2" fill="#00ff88" stroke="#101018" stroke-width="0.45" stroke-linejoin="round"/>
<polygon points="494.1,319 583.5,319 584.4,318.79 585.3,318.23 586.2,317.4 587.1,316.4 588,315.3 588.9,314.2 589.8,313.2 590.7,312.37 591.6,311.81 592.5,311.6 677.1,311.6 677.1,319 592.5,319 591.6,319.21 590.7,319.79 589.8,320.64 588.9,321.68 588,322.8 587.1,323.92 586.2,324.96 585.3,325.81 584.4,326.39 583.5,326.6 494.1,326.6" fill="#00ff88" stroke="#101018" stroke-width="0.45" stroke-linejoin="round"/>
<polygon points="494.1,334 583.5,334 584.4,333.79 585.3,333.23 586.2,332.4 587.1,331.4 588,330.3 588.9,329.2 589.8,328.2 590.7,327.37 591.6,326.81 592.5,326.6 677.1,326.6 677.1,334 592.5,334 591.6,334.21 590.7,334.79 589.8,335.64 588.9,336.68 588,337.8 587.1,338.92 586.2,339.96 585.3,340.81 584.4,341.39 583.5,341.6 494.1,341.6" fill="#00ff88" stroke="#101018" stroke-width="0.45" stroke-linejoin="round"/>
<polygon points="494.1,349.6 583.5,349.6 584.4,349.38 585.3,348.77 586.2,347.87 587.1,346.78 588,345.6 588.9,344.42 589.8,343.33 590.7,342.43 591.6,341.82 592.5,341.6 677.1,341.6 677.1,349.6 592.5,349.6 591.6,349.84 590.7,350.47 589.8,351.41 588.9,352.56 588,353.8 587.1,355.04 586.2,356.19 585.3,357.13 584.4,357.76 583.5,358 494.1,358" fill="#00ff88" stroke="#101018" stroke-width="0.45" stroke-linejoin="round"/>
<polygon points="677.1,358 591,358 587.6,360 586.6,362 587.6,364.2 591,366 677.1,366" fill="#00ff88" stroke="#101018" stroke-width="0.45" stroke-linejoin="round"/>
<ellipse cx="540" cy="238" rx="42.5" ry="3.6" fill="url(#cyo)" stroke="#101018" stroke-width="0.3"/>
<ellipse cx="542" cy="238" rx="39" ry="2" fill="url(#cym)" stroke="#101018" stroke-width="0.2"/>
<ellipse cx="553" cy="238" rx="20" ry="1.2" fill="url(#cyr)" stroke="#101018" stroke-width="0.15"/>
<ellipse cx="577.6" cy="238" rx="2.9" ry="1.8" fill="url(#cyo)" stroke="#101018" stroke-width="0.3"/>
<ellipse cx="577.4" cy="238" rx="1.3" ry="0.8" fill="url(#cym)"/>
<ellipse cx="532" cy="246.2" rx="50" ry="2.9" fill="url(#cdo)" stroke="#101018" stroke-width="0.3"/>
<ellipse cx="548" cy="246.3" rx="28" ry="1.6" fill="url(#cdm)" stroke="#101018" stroke-width="0.15"/>
<ellipse cx="553.5" cy="253.2" rx="19.5" ry="0.9" fill="url(#cyo)" stroke="#101018" stroke-width="0.2"/>
<ellipse cx="560" cy="231.5" rx="21" ry="1.3" fill="#1414f0"/>
<ellipse cx="631" cy="238" rx="41.5" ry="3.5" fill="url(#cdo)" stroke="#101018" stroke-width="0.3"/>
<ellipse cx="622" cy="238" rx="31" ry="2.1" fill="url(#cdr)" stroke="#101018" stroke-width="0.15"/>
<ellipse cx="637" cy="246.2" rx="46" ry="2.5" fill="url(#cyo)" stroke="#101018" stroke-width="0.3"/>
<ellipse cx="622" cy="246.3" rx="26" ry="1.3" fill="url(#cym)" stroke="#101018" stroke-width="0.15"/>
<ellipse cx="617.5" cy="253.3" rx="18.5" ry="0.9" fill="url(#cdo)" stroke="#101018" stroke-width="0.2"/>
<ellipse cx="557.5" cy="347.3" rx="9.5" ry="0.7" fill="url(#cdo)" stroke="#101018" stroke-width="0.2"/>
<ellipse cx="538.5" cy="354" rx="41" ry="2.8" fill="url(#cyo)" stroke="#101018" stroke-width="0.3"/>
<ellipse cx="550" cy="354.1" rx="22" ry="1.3" fill="url(#cym)" stroke="#101018" stroke-width="0.15"/>
<ellipse cx="532" cy="362.2" rx="50" ry="3.3" fill="url(#cdo)" stroke="#101018" stroke-width="0.3"/>
<ellipse cx="544" cy="362.3" rx="32" ry="2" fill="url(#cdm)" stroke="#101018" stroke-width="0.15"/>
<ellipse cx="561" cy="362.4" rx="10" ry="1" fill="url(#cdr)"/>
<ellipse cx="560" cy="368.9" rx="19" ry="1.0" fill="#1414f0"/>
<ellipse cx="614.5" cy="347.3" rx="8" ry="0.7" fill="url(#cdo)" stroke="#101018" stroke-width="0.2"/>
<ellipse cx="634" cy="354.2" rx="43" ry="3.1" fill="url(#cdo)" stroke="#101018" stroke-width="0.3"/>
<ellipse cx="627" cy="354.3" rx="28" ry="1.7" fill="url(#cdm)" stroke="#101018" stroke-width="0.15"/>
<ellipse cx="634" cy="362.4" rx="44" ry="3.4" fill="url(#cyo)" stroke="#101018" stroke-width="0.3"/>
<ellipse cx="626" cy="362.4" rx="32" ry="2" fill="url(#cym)" stroke="#101018" stroke-width="0.15"/>
<ellipse cx="617" cy="362.4" rx="17" ry="1.1" fill="url(#cyq)"/>
<ellipse cx="610" cy="369.0" rx="13" ry="0.9" fill="#1414f0"/>
</g>
<rect x="495.1" y="231" width="181" height="138.5" fill="none" stroke="#585858" stroke-width="0.6"/>
<line x1="495.1" y1="369.5" x2="495.1" y2="367.7" stroke="#454545" stroke-width="0.6"/>
<line x1="495.1" y1="231" x2="495.1" y2="232.8" stroke="#454545" stroke-width="0.6"/>
<text transform="translate(494.8 378.1) scale(0.92 1)" font-size="6.6" text-anchor="middle" font-weight="normal" fill="#2a2a2a" >-4</text>
<line x1="495.1" y1="369.5" x2="496.9" y2="369.5" stroke="#454545" stroke-width="0.6"/>
<line x1="676.1" y1="369.5" x2="674.3" y2="369.5" stroke="#454545" stroke-width="0.6"/>
<text transform="translate(492.2 371.8) scale(0.92 1)" font-size="6.6" text-anchor="end" font-weight="normal" fill="#2a2a2a" >-4</text>
<line x1="517.73" y1="369.5" x2="517.73" y2="367.7" stroke="#454545" stroke-width="0.6"/>
<line x1="517.73" y1="231" x2="517.73" y2="232.8" stroke="#454545" stroke-width="0.6"/>
<text transform="translate(517.43 378.1) scale(0.92 1)" font-size="6.6" text-anchor="middle" font-weight="normal" fill="#2a2a2a" >-3</text>
<line x1="495.1" y1="352.19" x2="496.9" y2="352.19" stroke="#454545" stroke-width="0.6"/>
<line x1="676.1" y1="352.19" x2="674.3" y2="352.19" stroke="#454545" stroke-width="0.6"/>
<text transform="translate(492.2 354.49) scale(0.92 1)" font-size="6.6" text-anchor="end" font-weight="normal" fill="#2a2a2a" >-3</text>
<line x1="540.35" y1="369.5" x2="540.35" y2="367.7" stroke="#454545" stroke-width="0.6"/>
<line x1="540.35" y1="231" x2="540.35" y2="232.8" stroke="#454545" stroke-width="0.6"/>
<text transform="translate(540.05 378.1) scale(0.92 1)" font-size="6.6" text-anchor="middle" font-weight="normal" fill="#2a2a2a" >-2</text>
<line x1="495.1" y1="334.88" x2="496.9" y2="334.88" stroke="#454545" stroke-width="0.6"/>
<line x1="676.1" y1="334.88" x2="674.3" y2="334.88" stroke="#454545" stroke-width="0.6"/>
<text transform="translate(492.2 337.18) scale(0.92 1)" font-size="6.6" text-anchor="end" font-weight="normal" fill="#2a2a2a" >-2</text>
<line x1="562.98" y1="369.5" x2="562.98" y2="367.7" stroke="#454545" stroke-width="0.6"/>
<line x1="562.98" y1="231" x2="562.98" y2="232.8" stroke="#454545" stroke-width="0.6"/>
<text transform="translate(562.68 378.1) scale(0.92 1)" font-size="6.6" text-anchor="middle" font-weight="normal" fill="#2a2a2a" >-1</text>
<line x1="495.1" y1="317.56" x2="496.9" y2="317.56" stroke="#454545" stroke-width="0.6"/>
<line x1="676.1" y1="317.56" x2="674.3" y2="317.56" stroke="#454545" stroke-width="0.6"/>
<text transform="translate(492.2 319.86) scale(0.92 1)" font-size="6.6" text-anchor="end" font-weight="normal" fill="#2a2a2a" >-1</text>
<line x1="585.6" y1="369.5" x2="585.6" y2="367.7" stroke="#454545" stroke-width="0.6"/>
<line x1="585.6" y1="231" x2="585.6" y2="232.8" stroke="#454545" stroke-width="0.6"/>
<text transform="translate(585.6 378.1) scale(0.92 1)" font-size="6.6" text-anchor="middle" font-weight="normal" fill="#2a2a2a" >0</text>
<line x1="495.1" y1="300.25" x2="496.9" y2="300.25" stroke="#454545" stroke-width="0.6"/>
<line x1="676.1" y1="300.25" x2="674.3" y2="300.25" stroke="#454545" stroke-width="0.6"/>
<text transform="translate(492.2 302.55) scale(0.92 1)" font-size="6.6" text-anchor="end" font-weight="normal" fill="#2a2a2a" >0</text>
<line x1="608.23" y1="369.5" x2="608.23" y2="367.7" stroke="#454545" stroke-width="0.6"/>
<line x1="608.23" y1="231" x2="608.23" y2="232.8" stroke="#454545" stroke-width="0.6"/>
<text transform="translate(608.23 378.1) scale(0.92 1)" font-size="6.6" text-anchor="middle" font-weight="normal" fill="#2a2a2a" >1</text>
<line x1="495.1" y1="282.94" x2="496.9" y2="282.94" stroke="#454545" stroke-width="0.6"/>
<line x1="676.1" y1="282.94" x2="674.3" y2="282.94" stroke="#454545" stroke-width="0.6"/>
<text transform="translate(492.2 285.24) scale(0.92 1)" font-size="6.6" text-anchor="end" font-weight="normal" fill="#2a2a2a" >1</text>
<line x1="630.85" y1="369.5" x2="630.85" y2="367.7" stroke="#454545" stroke-width="0.6"/>
<line x1="630.85" y1="231" x2="630.85" y2="232.8" stroke="#454545" stroke-width="0.6"/>
<text transform="translate(630.85 378.1) scale(0.92 1)" font-size="6.6" text-anchor="middle" font-weight="normal" fill="#2a2a2a" >2</text>
<line x1="495.1" y1="265.62" x2="496.9" y2="265.62" stroke="#454545" stroke-width="0.6"/>
<line x1="676.1" y1="265.62" x2="674.3" y2="265.62" stroke="#454545" stroke-width="0.6"/>
<text transform="translate(492.2 267.93) scale(0.92 1)" font-size="6.6" text-anchor="end" font-weight="normal" fill="#2a2a2a" >2</text>
<line x1="653.48" y1="369.5" x2="653.48" y2="367.7" stroke="#454545" stroke-width="0.6"/>
<line x1="653.48" y1="231" x2="653.48" y2="232.8" stroke="#454545" stroke-width="0.6"/>
<text transform="translate(653.48 378.1) scale(0.92 1)" font-size="6.6" text-anchor="middle" font-weight="normal" fill="#2a2a2a" >3</text>
<line x1="495.1" y1="248.31" x2="496.9" y2="248.31" stroke="#454545" stroke-width="0.6"/>
<line x1="676.1" y1="248.31" x2="674.3" y2="248.31" stroke="#454545" stroke-width="0.6"/>
<text transform="translate(492.2 250.61) scale(0.92 1)" font-size="6.6" text-anchor="end" font-weight="normal" fill="#2a2a2a" >3</text>
<line x1="676.1" y1="369.5" x2="676.1" y2="367.7" stroke="#454545" stroke-width="0.6"/>
<line x1="676.1" y1="231" x2="676.1" y2="232.8" stroke="#454545" stroke-width="0.6"/>
<text transform="translate(676.1 378.1) scale(0.92 1)" font-size="6.6" text-anchor="middle" font-weight="normal" fill="#2a2a2a" >4</text>
<line x1="495.1" y1="231" x2="496.9" y2="231" stroke="#454545" stroke-width="0.6"/>
<line x1="676.1" y1="231" x2="674.3" y2="231" stroke="#454545" stroke-width="0.6"/>
<text transform="translate(492.2 233.3) scale(0.92 1)" font-size="6.6" text-anchor="end" font-weight="normal" fill="#2a2a2a" >4</text>
<circle cx="232" cy="392.6" r="0.9" fill="#b9bdb2"/>
<text transform="translate(120.6 9.6) scale(0.89 1)" font-size="12.6" font-weight="bold" text-anchor="middle" fill="#111">(a<tspan dy="5.4" font-size="9.6">1</tspan><tspan dy="-5.4">)</tspan></text>
<text transform="translate(356.1 9.6) scale(0.89 1)" font-size="12.6" font-weight="bold" text-anchor="middle" fill="#111">(b<tspan dy="5.4" font-size="9.6">1</tspan><tspan dy="-5.4">)</tspan></text>
<text transform="translate(594.2 9.6) scale(0.89 1)" font-size="12.6" font-weight="bold" text-anchor="middle" fill="#111">(c<tspan dy="5.4" font-size="9.6">1</tspan><tspan dy="-5.4">)</tspan></text>
<text transform="translate(119.4 219.7) scale(0.89 1)" font-size="12.6" font-weight="bold" text-anchor="middle" fill="#111">(a<tspan dy="5.4" font-size="9.6">2</tspan><tspan dy="-5.4">)</tspan></text>
<text transform="translate(352.1 219.7) scale(0.89 1)" font-size="12.6" font-weight="bold" text-anchor="middle" fill="#111">(b<tspan dy="5.4" font-size="9.6">2</tspan><tspan dy="-5.4">)</tspan></text>
<text transform="translate(588.8 219.7) scale(0.89 1)" font-size="12.6" font-weight="bold" text-anchor="middle" fill="#111">(c<tspan dy="5.4" font-size="9.6">2</tspan><tspan dy="-5.4">)</tspan></text>
<text transform="translate(9 95.6) rotate(-90) scale(1.17 1)" font-size="10.2" text-anchor="middle" fill="#1c1c1c">U<tspan dy="3.3" font-size="8.5">g</tspan><tspan dy="-3.3">(x,t)</tspan></text>
<text transform="translate(242.6 94.6) rotate(-90) scale(1.17 1)" font-size="10.2" text-anchor="middle" fill="#1c1c1c">U<tspan dy="3.3" font-size="8.5">g</tspan><tspan dy="-3.3">(x,t)</tspan></text>
<text transform="translate(476 93.4) rotate(-90) scale(1.17 1)" font-size="10.2" text-anchor="middle" fill="#1c1c1c">U<tspan dy="3.3" font-size="8.5">g</tspan><tspan dy="-3.3">(x,t)</tspan></text>
<text x="77" y="185.5" font-size="11.5" text-anchor="middle" font-weight="normal" fill="#1c1c1c" >t</text>
<text x="155" y="185.5" font-size="11.5" text-anchor="middle" font-weight="normal" fill="#1c1c1c" >x</text>
<text x="310" y="183.5" font-size="11.5" text-anchor="middle" font-weight="normal" fill="#1c1c1c" >t</text>
<text x="387" y="185.5" font-size="11.5" text-anchor="middle" font-weight="normal" fill="#1c1c1c" >x</text>
<text x="541" y="183" font-size="11.5" text-anchor="middle" font-weight="normal" fill="#1c1c1c" >t</text>
<text x="618" y="185.5" font-size="11.5" text-anchor="middle" font-weight="normal" fill="#1c1c1c" >x</text>
<text x="119" y="392" font-size="11.5" text-anchor="middle" font-weight="normal" fill="#1c1c1c" >x</text>
<text x="352" y="392" font-size="11.5" text-anchor="middle" font-weight="normal" fill="#1c1c1c" >x</text>
<text x="586" y="392" font-size="11.5" text-anchor="middle" font-weight="normal" fill="#1c1c1c" >x</text>
<text transform="translate(16.8 300.5) rotate(-90)" font-size="11.5" text-anchor="middle" fill="#1c1c1c">t</text>
<text transform="translate(249.8 300) rotate(-90)" font-size="11.5" text-anchor="middle" fill="#1c1c1c">t</text>
<text transform="translate(483.3 300.5) rotate(-90)" font-size="11.5" text-anchor="middle" fill="#1c1c1c">t</text>
</svg>
</body>
</html>
